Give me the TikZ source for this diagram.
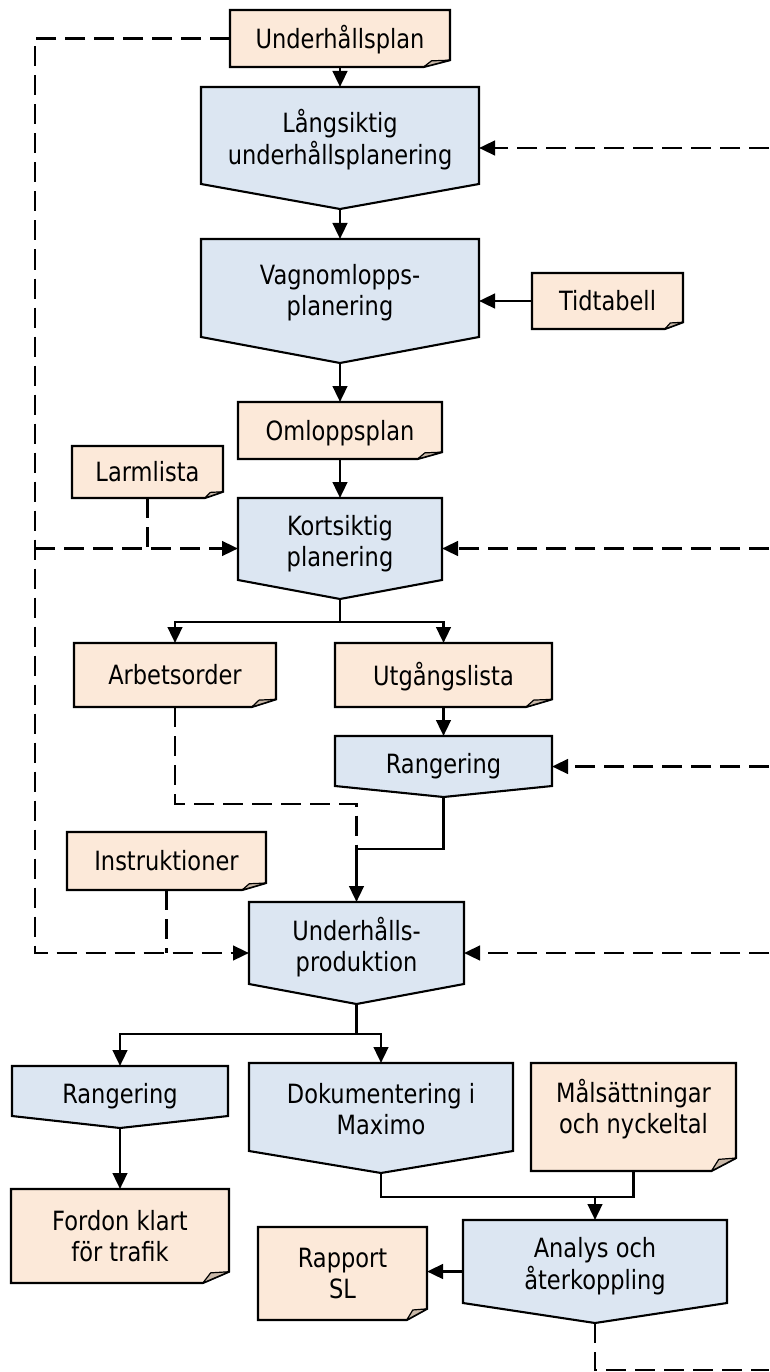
\documentclass[tikz,border=0pt]{standalone}
\usepackage{fontspec}
\setmainfont{DejaVu Sans}[FakeStretch=0.85]
\usetikzlibrary{arrows.meta}

\definecolor{docfill}{HTML}{FCE9D9}
\definecolor{procfill}{HTML}{DCE6F2}
\definecolor{flapfill}{HTML}{C9B8A8}

\tikzset{
  boxline/.style={line width=2.1pt, line join=miter},
  docshape/.style={boxline, fill=docfill},
  flapshape/.style={line width=1.2pt, fill=flapfill, line join=round},
  procshape/.style={boxline, fill=procfill},
  boxtext/.style={inner sep=0pt, outer sep=0pt, font=\fontsize{26.5}{31}\selectfont, text=black},
  conn/.style={line width=2.8pt, line cap=butt},
  flow/.style={conn, -{Triangle[length=16pt,width=14.5pt]}},
  dline/.style={conn, dash pattern=on 20pt off 9pt},
  dflow/.style={dline, -{Triangle[length=16pt,width=14.5pt]}},
}

% process step: name, left, top, right, side bottom, tip, text
\newcommand\procnode[7]{%
  \pgfmathsetmacro\bxc{(#2+#4)/2}%
  \pgfmathsetmacro\bym{(#3+#6)/2}%
  \pgfmathsetmacro\bwd{#4-#2}%
  \pgfmathsetmacro\bht{#6-#3}%
  \pgfmathsetmacro\blift{(#6-#5)/2-6}%
  \draw[procshape] (#2,#3) -- (#4,#3) -- (#4,#5) -- (\bxc,#6) -- (#2,#5) -- cycle;
  \node[boxtext, minimum width=\bwd pt, minimum height=\bht pt] (#1) at (\bxc,\bym)
    {\raisebox{\blift pt}[\height][\depth]{\begin{tabular}{@{}c@{}}#7\end{tabular}}};
}

% document with folded corner: name, left, top, right, bottom, text lift, text
\newcommand\docnode[7]{%
  \pgfmathsetmacro\bxc{(#2+#4)/2}%
  \pgfmathsetmacro\bym{(#3+#5)/2}%
  \pgfmathsetmacro\bwd{#4-#2}%
  \pgfmathsetmacro\bht{#5-#3}%
  \pgfmathsetmacro\bfw{0.12*(#4-#2)}%
  \pgfmathsetmacro\bfh{0.12*(#5-#3)}%
  \pgfmathsetmacro\blift{#6-3.5}%
  \draw[docshape] (#2,#3) -- (#4,#3) -- (#4,{#5-\bfh}) -- ({#4-\bfw},#5) -- (#2,#5) -- cycle;
  \draw[flapshape] ({#4-\bfw},#5) -- (#4,{#5-\bfh}) -- ({#4-0.7*\bfw},{#5-0.9*\bfh}) -- cycle;
  \node[boxtext, minimum width=\bwd pt, minimum height=\bht pt] (#1) at (\bxc,\bym)
    {\raisebox{\blift pt}[\height][\depth]{\begin{tabular}{@{}c@{}}#7\end{tabular}}};
}

\begin{document}
\begin{tikzpicture}[x=1pt,y=-1pt]
\useasboundingbox (0,0) rectangle (769,1372);

% documents
\docnode{uplan}{230}{10}{450}{67}{0}{Underhållsplan}
\docnode{tid}{532}{273}{683}{329}{0}{Tidtabell}
\docnode{oml}{238}{402}{442}{459}{0}{Omloppsplan}
\docnode{larm}{72}{446}{223}{498}{0}{Larmlista}
\docnode{arb}{74}{643}{276}{707}{0}{Arbetsorder}
\docnode{utg}{335}{643}{552}{707}{0}{Utgångslista}
\docnode{instr}{67}{832}{266}{890}{0}{Instruktioner}
\docnode{mal}{531}{1063}{736}{1171}{9}{Målsättningar\\och nyckeltal}
\docnode{ford}{11}{1189}{229}{1283}{0}{Fordon klart\\för trafik}
\docnode{rapp}{258}{1227}{427}{1320}{0}{Rapport\\SL}

% process steps
\procnode{lang}{201}{87}{479}{184}{209}{Långsiktig\\underhållsplanering}
\procnode{vagn}{201}{239}{479}{337}{363}{Vagnomlopps-\\planering}
\procnode{kort}{238}{498}{442}{580}{599}{Kortsiktig\\planering}
\procnode{rang1}{335}{736}{552}{786}{797}{Rangering}
\procnode{prod}{249}{902}{464}{984}{1004}{Underhålls-\\produktion}
\procnode{rang2}{12}{1066}{228}{1116}{1128}{Rangering}
\procnode{dok}{249}{1063}{513}{1151}{1173}{Dokumentering i\\Maximo}
\procnode{anal}{463}{1220}{727}{1303}{1323}{Analys och\\återkoppling}

% routing points
\coordinate (lx) at (35,0);
\coordinate (rx) at (769,0);
\coordinate (ksplit) at (340,622);
\coordinate (ojog) at (356.5,804);
\coordinate (pjoin) at (356.5,849);
\coordinate (psplit) at (356.5,1034);
\coordinate (ajoin) at (595,1197);
\coordinate (bx) at (769,1370);

% main flow
\draw[flow] (uplan.south) -- (lang.north);
\draw[flow] (lang.south) -- (vagn.north);
\draw[flow] (tid.west) -- (tid.west -| vagn.east);
\draw[flow] (vagn.south) -- (oml.north);
\draw[flow] (oml.south) -- (kort.north);
\draw[flow] (kort.south) -- (ksplit) -| (arb.north);
\draw[flow] (ksplit) -| (utg.north);
\draw[flow] (utg.south) -- (rang1.north);
\draw[dline] (arb.south) |- (ojog) -- (pjoin);
\draw[flow] (rang1.south) |- (pjoin) -- (prod.north);
\draw[flow] (prod.south) -- (psplit) -| (rang2.north);
\draw[flow] (psplit) -| (dok.north);
\draw[flow] (rang2.south) -- (ford.north);
\draw[conn] (dok.south) |- (ajoin);
\draw[conn] (mal.south) |- (ajoin);
\draw[flow] (ajoin) -- (anal.north);
\draw[flow] (anal.west) -- (anal.west -| rapp.east);

% feedback and inputs on the left
\draw[dflow] (uplan.west) -- (uplan.west -| lx) |- (prod.west);
\draw[dflow] (kort.west -| lx) -- (kort.west);
\draw[dline] (larm.south) -- (larm.south |- kort.west);
\draw[dline] (instr.south) -- (instr.south |- prod.west);

% feedback from the right
\draw[dflow] (lang.east -| rx) -- (lang.east);
\draw[dflow] (kort.east -| rx) -- (kort.east);
\draw[dflow] (rang1.east -| rx) -- (rang1.east);
\draw[dflow] (prod.east -| rx) -- (prod.east);
\draw[dline] (anal.south) |- (bx);
\end{tikzpicture}
\end{document}
